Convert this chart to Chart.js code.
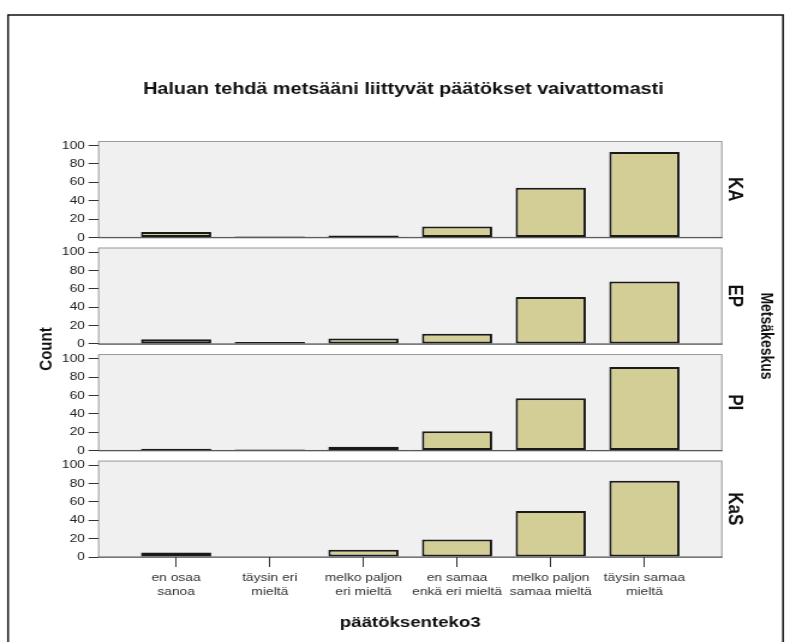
<!DOCTYPE html>
<html>
<head>
<meta charset="utf-8">
<script src="https://cdn.jsdelivr.net/npm/chart.js@4.4.0/dist/chart.umd.min.js"></script>
<style>
  body { margin: 0; background: #fff; overflow: hidden; }
  /* the original picture is stretched sideways, so draw narrow and stretch */
  #myChart { transform: scaleX(1.2006); transform-origin: 0 0; }
</style>
</head>
<body>
<canvas id="myChart" width="658" height="642"></canvas>
<script>
// data
const chartTitle = "Haluan tehdä metsääni liittyvät päätökset vaivattomasti";
const tickLabels = [
  ["en osaa", "sanoa"],
  ["täysin eri", "mieltä"],
  ["melko paljon", "eri mieltä"],
  ["en samaa", "enkä eri mieltä"],
  ["melko paljon", "samaa mieltä"],
  ["täysin samaa", "mieltä"]
];
const panels = ["KA", "EP", "PI", "KaS"];
const countsKA = [6, 1, 2, 12, 54, 93];
const countsEP = [5, 2, 6, 11, 51, 68];
const countsPI = [2, 1, 4, 21, 57, 91];
const countsKaS = [5, 0, 8, 19, 50, 83];
const yTicks = [0, 20, 40, 60, 80, 100];

const allCounts = [countsKA, countsEP, countsPI, countsKaS];
const panelIds = panels.map(p => "y" + p);
const font = "'Liberation Sans', Arial, sans-serif";

//build one y axis per panel, stacked on the left
const scales = {
  x: {
    type: "linear",
    min: -0.833,
    max: tickLabels.length - 1 + 0.833,
    offset: false,
    border: {display: false},
    grid: {drawOnChartArea: false, offset: false, tickLength: 10, color: "#333"},
    ticks: {
      stepSize: 1,
      includeBounds: false,
      autoSkip: false,
      maxRotation: 0,
      padding: 3,
      color: "#333",
      font: {family: font, size: 11.5, lineHeight: 1.28},
      callback: (v) => tickLabels[v]
    },
    title: {
      display: true,
      text: "päätöksenteko3",
      color: "#111",
      font: {family: font, size: 15.5, weight: "bold"},
      padding: {top: 0, bottom: 10}
    },
    afterFit: (axis) => { axis.height = 85; }
  }
};
panelIds.forEach((id, i) => {
  const last = i === panelIds.length - 1;
  scales[id] = {
    type: "linear",
    position: "left",
    stack: "panels",
    stackWeight: last ? 105 : 116,
    weight: panelIds.length - i,
    min: last ? 0 : -11,
    max: 105,
    border: {display: false},
    grid: {drawOnChartArea: false, tickLength: 8, color: "#333"},
    ticks: {autoSkip: false, padding: 3, color: "#222",
            font: {family: font, size: 11.5}},
    afterBuildTicks: (axis) => { axis.ticks = yTicks.map(v => ({value: v})); },
    afterFit: (axis) => { axis.width = 61.7; }
  };
});

//panel backgrounds, frame and the text around the panels
const panelPlugin = {
  id: "panelPlugin",
  beforeDraw(chart) {
    const {ctx, chartArea} = chart;
    const w = chartArea.right - chartArea.left;
    ctx.save();
    ctx.fillStyle = "#fff";
    ctx.fillRect(0, 0, chart.width, chart.height);
    ctx.strokeStyle = "#111";
    ctx.lineWidth = 1.5;
    ctx.strokeRect(6.7, 15, 645.5, 700);
    panelIds.forEach(id => {
      const s = chart.scales[id];
      const top = s.getPixelForValue(s.max);
      const bottom = s.getPixelForValue(0);
      ctx.fillStyle = "#f0f0f0";
      ctx.fillRect(chartArea.left, top, w, bottom - top);
      ctx.strokeStyle = "#9a9a9a";
      ctx.lineWidth = 1;
      ctx.strokeRect(chartArea.left + 0.5, top + 0.5, w - 1, bottom - top);
      ctx.strokeStyle = "#555";
      ctx.beginPath();
      ctx.moveTo(chartArea.left, bottom);
      ctx.lineTo(chartArea.right, bottom);
      ctx.stroke();
    });
    ctx.restore();
  },
  afterDraw(chart) {
    const {ctx, chartArea} = chart;
    ctx.save();
    ctx.fillStyle = "#111";
    ctx.textAlign = "center";
    ctx.textBaseline = "alphabetic";
    ctx.font = "bold 16.5px " + font;
    ctx.fillText(chartTitle, 336, 94);

    ctx.textBaseline = "middle";
    ctx.font = "bold 17px " + font;
    panelIds.forEach((id, i) => {
      const s = chart.scales[id];
      const mid = (s.getPixelForValue(s.max) + s.getPixelForValue(0)) / 2;
      ctx.save();
      ctx.translate(chartArea.right + 10, mid);
      ctx.rotate(Math.PI / 2);
      ctx.fillText(panels[i], 0, 0);
      ctx.restore();
    });

    ctx.font = "bold 14px " + font;
    ctx.save();
    ctx.translate(chartArea.right + 36, 336);
    ctx.rotate(Math.PI / 2);
    ctx.fillText("Metsäkeskus", 0, 0);
    ctx.restore();

    ctx.font = "bold 15px " + font;
    ctx.save();
    ctx.translate(39, (chartArea.top + chartArea.bottom) / 2);
    ctx.rotate(-Math.PI / 2);
    ctx.fillText("Count", 0, 0);
    ctx.restore();
    ctx.restore();
  }
};

const datasets = allCounts.map((counts, i) => ({
  label: panels[i],
  data: counts.map((v, j) => ({x: j, y: v})),
  xAxisID: "x",
  yAxisID: panelIds[i],
  grouped: false,
  backgroundColor: "#d3ce96",
  borderColor: "#1a1a1a",
  borderWidth: 2,
  borderSkipped: false,
  barPercentage: 0.75,
  categoryPercentage: 1
}));

const myChart = new Chart(document.getElementById("myChart"), {
  type: "bar",
  data: {datasets: datasets},
  options: {
    responsive: false,
    animation: false,
    layout: {padding: {left: 20, right: 56.3, top: 141, bottom: 0}},
    scales: scales,
    plugins: {
      legend: {display: false},
      tooltip: {enabled: false}
    }
  },
  plugins: [panelPlugin]
});
</script>
</body>
</html>
